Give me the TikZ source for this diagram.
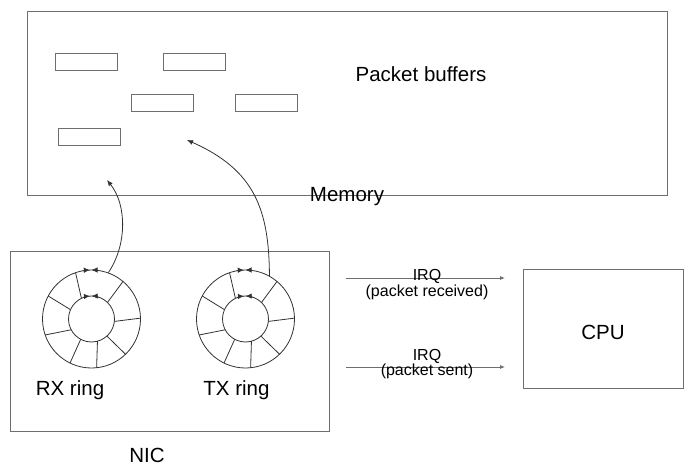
\documentclass[tikz,border=0pt]{standalone}
\usepackage{fontspec}
\setmainfont{Liberation Sans}
\usetikzlibrary{arrows.meta}
\usetikzlibrary{calc}
\definecolor{boxgray}{RGB}{110,110,110}
\definecolor{ringgray}{RGB}{50,50,50}
\newcommand{\drawarrow}{\draw[ringgray, line width=0.8pt, -{Latex[length=6pt,width=5pt]}]}

\begin{document}
\begin{tikzpicture}[x=1pt, y=1pt, font=\fontsize{20.5}{24}\selectfont,
    box/.style={draw=boxgray, line width=1pt, inner sep=0pt},
    buffer/.style={box, minimum width=62, minimum height=17},
    ringline/.style={draw=ringgray, line width=0.8pt},
    ringtip/.style={ringgray, line width=0.8pt, -{Latex[length=6pt,width=5.5pt]}},
    small/.style={font=\fontsize{16}{19}\selectfont}]
    \useasboundingbox (0,0) rectangle (696,-468);

    % Draw boxes
    \node[box, minimum width=640, minimum height=183] (memory) at (347,-103.5) {};
    \node[box, minimum width=319, minimum height=180] (nic) at (169.5,-341) {};
    \node[box, minimum width=160, minimum height=119] (cpu) at (603,-328.5) {};

    % Draw buffers
    \node[buffer] (buf1) at (86,-62.5) {};
    \node[buffer] (buf2) at (194,-62.5) {};
    \node[buffer] (buf3) at (162,-103.5) {};
    \node[buffer] (buf4) at (266,-103.5) {};
    \node[buffer] (buf5) at (89.5,-137.5) {};

    % Draw rings
    \coordinate (rx) at (91.5,-319);
    \coordinate (tx) at (245.5,-319);
    \foreach \r in {rx,tx} {
        \node[ringline, circle, minimum size=98, inner sep=0pt] (\r ring) at (\r) {};
        \node[ringline, circle, minimum size=46, inner sep=0pt] (\r hub) at (\r) {};
        \foreach \a/\b in {116/109, 46/50, -6/1, -48/-46, -75/-84, -118/-116, -152/-161, 156/152} {
            \draw[ringline] ($(\r)+(\a:23)$) -- ($(\r)+(\b:49)$);
        }
        \draw[ringtip] ($(\r)+(100:49)$) arc (100:92:49);
        \draw[ringtip] ($(\r)+(82:49)$) arc (82:90:49);
        \draw[ringtip] ($(\r)+(112:23)$) arc (112:94:23);
        \draw[ringtip] ($(\r)+(72:23)$) arc (72:89.5:23);
    }

    % Draw ring to memory arrows
    \coordinate (rxtarget) at (107,-180);
    \coordinate (txtarget) at (187,-140);
    \drawarrow (rxring.70) .. controls (127,-245) and (127,-205) .. (rxtarget);
    \drawarrow (txring.61) .. controls (269,-210) and (255,-170) .. (txtarget);

    % Draw interrupts
    \coordinate (rxirqstart) at (346,-278);
    \coordinate (rxirqend) at (505,-278);
    \coordinate (txirqstart) at (346,-367);
    \coordinate (txirqend) at (505,-367);
    \draw[boxgray, line width=0.8pt, -{Latex[length=5pt,width=4pt]}] (rxirqstart) -- (rxirqend);
    \draw[boxgray, line width=0.8pt, -{Latex[length=5pt,width=4pt]}] (txirqstart) -- (txirqend);
    \node[small, anchor=base] (rxirq) at (427,-280.5) {IRQ};
    \node[small, anchor=base] (rxirqnote) at (427,-296.5) {(packet received)};
    \node[small, anchor=base] (txirq) at (427,-360) {IRQ};
    \node[small, anchor=base] (txirqnote) at (427,-375) {(packet sent)};

    % Labels
    \node[anchor=base] (buflabel) at (421,-81.5) {Packet buffers};
    \node[anchor=base] (memlabel) at (347,-201.5) {Memory};
    \node[anchor=base] (rxlabel) at (70,-395) {RX ring};
    \node[anchor=base] (txlabel) at (236.5,-395) {TX ring};
    \node[anchor=base] (niclabel) at (147,-462.5) {NIC};
    \node[anchor=base] (cpulabel) at (603,-339) {CPU};
\end{tikzpicture}
\end{document}
